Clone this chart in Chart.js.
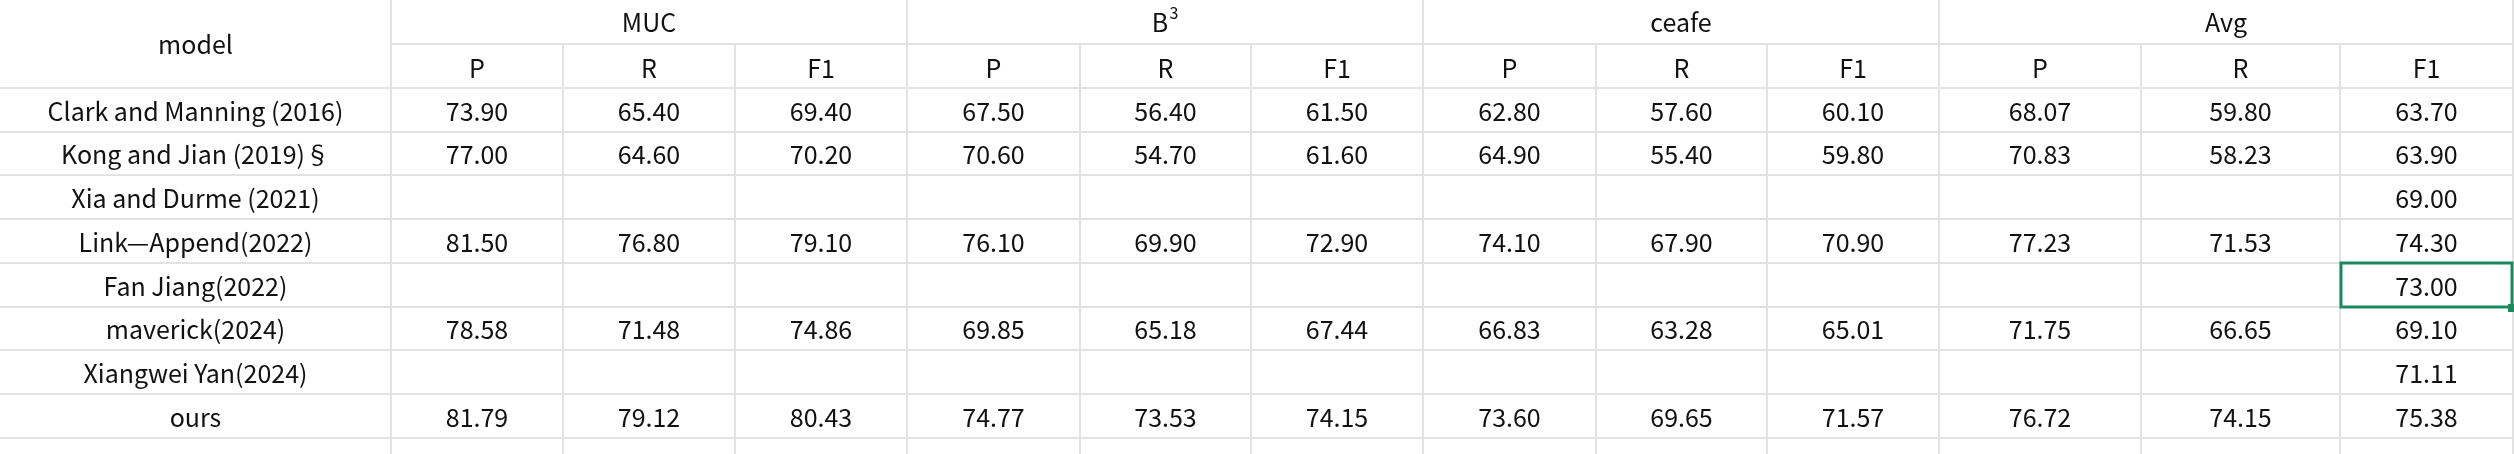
<!DOCTYPE html>
<html>
<head>
<meta charset="utf-8">
<script src="https://cdn.jsdelivr.net/npm/chart.js@4.4.1/dist/chart.umd.min.js"></script>
<style>
  html, body { margin: 0; padding: 0; background: #fff; }
  #wrap { width: 2514px; height: 454px; }
</style>
</head>
<body>
<div id="wrap"><canvas id="tbl"></canvas></div>
<script>
// --- data ---
const models = [
  'Clark and Manning (2016)', 'Kong and Jian (2019)§', 'Xia and Durme (2021)',
  'Link—Append(2022)', 'Fan Jiang(2022)', 'maverick(2024)', 'Xiangwei Yan(2024)', 'ours',
];
const groups = ['MUC', 'B3', 'ceafe', 'Avg'];
const metrics = ['P', 'R', 'F1'];
const mucP  = [73.90, 77.00, null, 81.50, null, 78.58, null, 81.79];
const mucR  = [65.40, 64.60, null, 76.80, null, 71.48, null, 79.12];
const mucF1 = [69.40, 70.20, null, 79.10, null, 74.86, null, 80.43];
const b3P   = [67.50, 70.60, null, 76.10, null, 69.85, null, 74.77];
const b3R   = [56.40, 54.70, null, 69.90, null, 65.18, null, 73.53];
const b3F1  = [61.50, 61.60, null, 72.90, null, 67.44, null, 74.15];
const ceP   = [62.80, 64.90, null, 74.10, null, 66.83, null, 73.60];
const ceR   = [57.60, 55.40, null, 67.90, null, 63.28, null, 69.65];
const ceF1  = [60.10, 59.80, null, 70.90, null, 65.01, null, 71.57];
const avgP  = [68.07, 70.83, null, 77.23, null, 71.75, null, 76.72];
const avgR  = [59.80, 58.23, null, 71.53, null, 66.65, null, 74.15];
const avgF1 = [63.70, 63.90, 69.00, 74.30, 73.00, 69.10, 71.11, 75.38];
const valueCols = [mucP, mucR, mucF1, b3P, b3R, b3F1, ceP, ceR, ceF1, avgP, avgR, avgF1];

// --- layout (pixel units of the linear scales) ---
const colEdges = [0, 391, 563, 735, 907, 1080, 1251, 1423, 1596, 1767, 1939, 2141, 2340, 2513];
const rowEdges = [0, 44, 88, 132, 175, 219, 263, 307, 350, 394, 438, 454];
const selected = { row: 4, col: 12 };
const GRID = '#e2e2e2';
const FONT = '"Noto Sans CJK SC", "Noto Sans", sans-serif';

const mid = (a, i) => (a[i] + a[i + 1]) / 2;

const cells = [];
models.forEach((m, r) => {
  cells.push({ x: mid(colEdges, 0), y: mid(rowEdges, r + 2), t: m });
  valueCols.forEach((col, c) => {
    if (col[r] != null) cells.push({ x: mid(colEdges, c + 1), y: mid(rowEdges, r + 2), t: col[r].toFixed(2) });
  });
});

const tablePlugin = {
  id: 'table',
  beforeDatasetsDraw(chart) {
    const { ctx, scales: { x, y } } = chart;
    const X = v => x.getPixelForValue(v), Y = v => y.getPixelForValue(v);
    ctx.save();
    ctx.strokeStyle = GRID;
    ctx.lineWidth = 2;
    ctx.beginPath();
    // header row 1 bottom (not under merged model cell)
    ctx.moveTo(X(colEdges[1]), Y(rowEdges[1])); ctx.lineTo(X(colEdges[13]), Y(rowEdges[1]));
    for (let r = 2; r < rowEdges.length - 1; r++) {
      ctx.moveTo(X(0), Y(rowEdges[r])); ctx.lineTo(X(colEdges[13]), Y(rowEdges[r]));
    }
    colEdges.forEach((e, i) => {
      if (i === 0) return;
      const isGroup = (i - 1) % 3 === 0;
      ctx.moveTo(X(e), Y(isGroup ? 0 : rowEdges[1]));
      ctx.lineTo(X(e), Y(454));
    });
    ctx.stroke();
    ctx.restore();
  },
  afterDatasetsDraw(chart) {
    const { ctx, scales: { x, y } } = chart;
    const X = v => x.getPixelForValue(v), Y = v => y.getPixelForValue(v);
    ctx.save();
    ctx.fillStyle = '#111';
    ctx.textAlign = 'center';
    ctx.textBaseline = 'middle';
    ctx.font = '25px ' + FONT;
    ctx.fillText('model', X(mid(colEdges, 0)), Y(rowEdges[1]));
    groups.forEach((g, i) => {
      const cx = X((colEdges[1 + i * 3] + colEdges[4 + i * 3]) / 2), cy = Y(mid(rowEdges, 0));
      if (g === 'B3') {
        ctx.font = '25px ' + FONT;
        ctx.fillText('B', cx - 5, cy);
        ctx.font = '16px ' + FONT;
        ctx.fillText('3', cx + 9, cy - 9);
        ctx.font = '25px ' + FONT;
      } else {
        ctx.fillText(g, cx, cy);
      }
      metrics.forEach((m, j) => ctx.fillText(m, X(mid(colEdges, 1 + i * 3 + j)), Y(mid(rowEdges, 1)) + 2));
    });
    chart.data.datasets[0].data.forEach(p => ctx.fillText(p.t, X(p.x), Y(p.y) + 1));
    // selected cell
    const sx0 = X(colEdges[selected.col]), sx1 = X(colEdges[selected.col + 1]);
    const sy0 = Y(rowEdges[selected.row + 2]), sy1 = Y(rowEdges[selected.row + 3]);
    ctx.strokeStyle = '#1a8a5e';
    ctx.lineWidth = 3;
    ctx.strokeRect(sx0 + 1, sy0, sx1 - sx0 - 2, sy1 - sy0);
    ctx.fillStyle = '#1a8a5e';
    ctx.fillRect(sx1 - 5, sy1 - 3, 8, 8);
    ctx.restore();
  },
};

new Chart(document.getElementById('tbl'), {
  type: 'scatter',
  data: { datasets: [{ data: cells, pointRadius: 0, pointHoverRadius: 0 }] },
  options: {
    responsive: true,
    maintainAspectRatio: false,
    animation: false,
    events: [],
    layout: { padding: 0 },
    plugins: { legend: { display: false }, tooltip: { enabled: false } },
    scales: {
      x: { type: 'linear', min: 0, max: 2514, display: false },
      y: { type: 'linear', min: 0, max: 454, reverse: true, display: false },
    },
  },
  plugins: [tablePlugin],
});
</script>
</body>
</html>
